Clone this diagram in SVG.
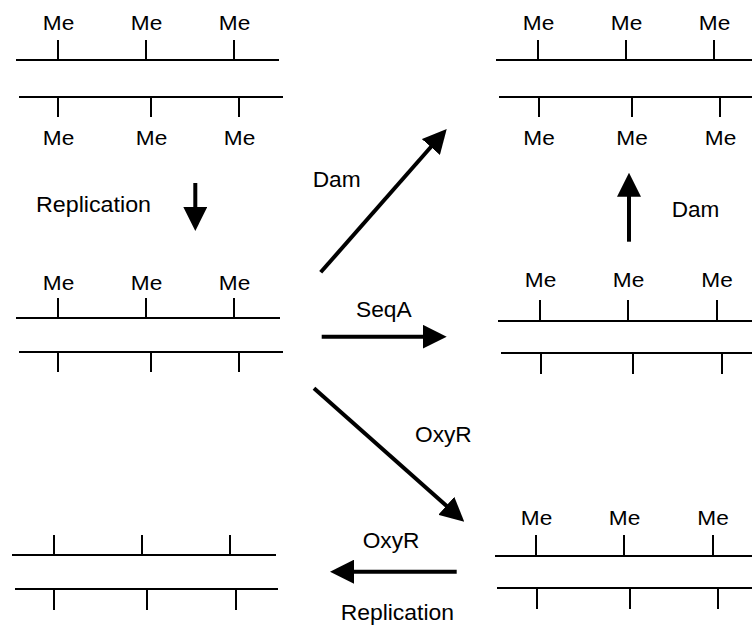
<svg xmlns="http://www.w3.org/2000/svg" width="752" height="629" viewBox="0 0 752 629">
  <style>
    .strand { stroke: #000; stroke-width: 2; fill: none; }
    .site { stroke: #000; stroke-width: 2; fill: none; }
    .shaft { stroke: #000; stroke-width: 4; fill: none; }
    text { font-family: "Liberation Sans", Arial, Helvetica, sans-serif; font-size: 22px; fill: #000; }
    .me { text-anchor: middle; font-size: 20px; }
  </style>
  <defs>
    <marker id="head" viewBox="0 0 24 24" refX="2" refY="12" markerWidth="24" markerHeight="24" markerUnits="userSpaceOnUse" orient="auto">
      <path d="M0,0 L24,12 L0,24 Z" fill="#000"/>
    </marker>
  </defs>
  <rect width="752" height="629" fill="#fff"/>

  <!-- fully methylated duplex, top left -->
  <g id="dna-full-left">
    <path class="strand" d="M16,60 H279 M19,97 H283"/>
    <path class="site" d="M58,40 V60 M146,40 V60 M234,40 V60 M58,97 V117 M151,97 V117 M239,97 V117"/>
    <text class="me" x="58.5" y="30" textLength="31.5" lengthAdjust="spacingAndGlyphs">Me</text>
    <text class="me" x="146.5" y="30" textLength="31.5" lengthAdjust="spacingAndGlyphs">Me</text>
    <text class="me" x="234.5" y="30" textLength="31.5" lengthAdjust="spacingAndGlyphs">Me</text>
    <text class="me" x="58.5" y="145" textLength="31.5" lengthAdjust="spacingAndGlyphs">Me</text>
    <text class="me" x="151.5" y="145" textLength="31.5" lengthAdjust="spacingAndGlyphs">Me</text>
    <text class="me" x="239.5" y="145" textLength="31.5" lengthAdjust="spacingAndGlyphs">Me</text>
  </g>

  <!-- fully methylated duplex, top right -->
  <g id="dna-full-right">
    <path class="strand" d="M496,60 H752 M499,97 H752"/>
    <path class="site" d="M538,40 V60 M626,40 V60 M714,40 V60 M539,97 V117 M632,97 V117 M720,97 V117"/>
    <text class="me" x="538.5" y="30" textLength="31.5" lengthAdjust="spacingAndGlyphs">Me</text>
    <text class="me" x="626.5" y="30" textLength="31.5" lengthAdjust="spacingAndGlyphs">Me</text>
    <text class="me" x="714.5" y="30" textLength="31.5" lengthAdjust="spacingAndGlyphs">Me</text>
    <text class="me" x="539" y="145" textLength="31.5" lengthAdjust="spacingAndGlyphs">Me</text>
    <text class="me" x="632" y="145" textLength="31.5" lengthAdjust="spacingAndGlyphs">Me</text>
    <text class="me" x="720.5" y="145" textLength="31.5" lengthAdjust="spacingAndGlyphs">Me</text>
  </g>

  <!-- hemimethylated duplex after replication -->
  <g id="dna-hemi-left">
    <path class="strand" d="M16,318 H280 M19,352 H283"/>
    <path class="site" d="M58,298 V318 M146,298 V318 M234,298 V318 M58,352 V372 M151,352 V372 M239,352 V372"/>
    <text class="me" x="58.5" y="290" textLength="31.5" lengthAdjust="spacingAndGlyphs">Me</text>
    <text class="me" x="146.5" y="290" textLength="31.5" lengthAdjust="spacingAndGlyphs">Me</text>
    <text class="me" x="234.5" y="290" textLength="31.5" lengthAdjust="spacingAndGlyphs">Me</text>
  </g>

  <!-- hemimethylated duplex bound by SeqA -->
  <g id="dna-hemi-right">
    <path class="strand" d="M498,321 H752 M501,353 H752"/>
    <path class="site" d="M540,300 V321 M628,300 V321 M717,300 V321 M541,353 V374 M633,353 V374 M722,353 V374"/>
    <text class="me" x="540.5" y="287" textLength="31.5" lengthAdjust="spacingAndGlyphs">Me</text>
    <text class="me" x="628.5" y="287" textLength="31.5" lengthAdjust="spacingAndGlyphs">Me</text>
    <text class="me" x="717" y="287" textLength="31.5" lengthAdjust="spacingAndGlyphs">Me</text>
  </g>

  <!-- unmethylated duplex, bottom left -->
  <g id="dna-unmethylated">
    <path class="strand" d="M12,555 H276 M15,589 H278"/>
    <path class="site" d="M54,535 V555 M142,535 V555 M230,535 V555 M54,589 V610 M147,589 V610 M236,589 V610"/>
  </g>

  <!-- hemimethylated duplex bound by OxyR -->
  <g id="dna-hemi-oxyr">
    <path class="strand" d="M495,556 H752 M497,588 H752"/>
    <path class="site" d="M536,535 V556 M624,535 V556 M713,535 V556 M537,588 V609 M630,588 V609 M718,588 V609"/>
    <text class="me" x="536.5" y="525" textLength="31.5" lengthAdjust="spacingAndGlyphs">Me</text>
    <text class="me" x="624.5" y="525" textLength="31.5" lengthAdjust="spacingAndGlyphs">Me</text>
    <text class="me" x="713" y="525" textLength="31.5" lengthAdjust="spacingAndGlyphs">Me</text>
  </g>

  <!-- transitions -->
  <g id="connectors">
    <line class="shaft" x1="195.3" y1="183" x2="195.3" y2="209" marker-end="url(#head)"/>
    <line class="shaft" x1="320.7" y1="272.3" x2="432.2" y2="145.5" marker-end="url(#head)"/>
    <line class="shaft" x1="321.7" y1="336.7" x2="424.7" y2="336.7" marker-end="url(#head)"/>
    <line class="shaft" x1="629" y1="241.7" x2="629" y2="194.7" marker-end="url(#head)"/>
    <line class="shaft" x1="314" y1="388.3" x2="447.8" y2="507.1" marker-end="url(#head)"/>
    <line class="shaft" x1="456.7" y1="571.7" x2="352" y2="571.7" marker-end="url(#head)"/>
  </g>

  <g id="labels">
    <text x="36" y="212" textLength="115" lengthAdjust="spacingAndGlyphs">Replication</text>
    <text x="312.7" y="187" textLength="48" lengthAdjust="spacingAndGlyphs">Dam</text>
    <text x="356" y="317" textLength="55.7" lengthAdjust="spacingAndGlyphs">SeqA</text>
    <text x="671.7" y="217" textLength="47.6" lengthAdjust="spacingAndGlyphs">Dam</text>
    <text x="415" y="442" textLength="56.7" lengthAdjust="spacingAndGlyphs">OxyR</text>
    <text x="362.7" y="548" textLength="56.7" lengthAdjust="spacingAndGlyphs">OxyR</text>
    <text x="340.7" y="620" textLength="113.3" lengthAdjust="spacingAndGlyphs">Replication</text>
  </g>
</svg>
